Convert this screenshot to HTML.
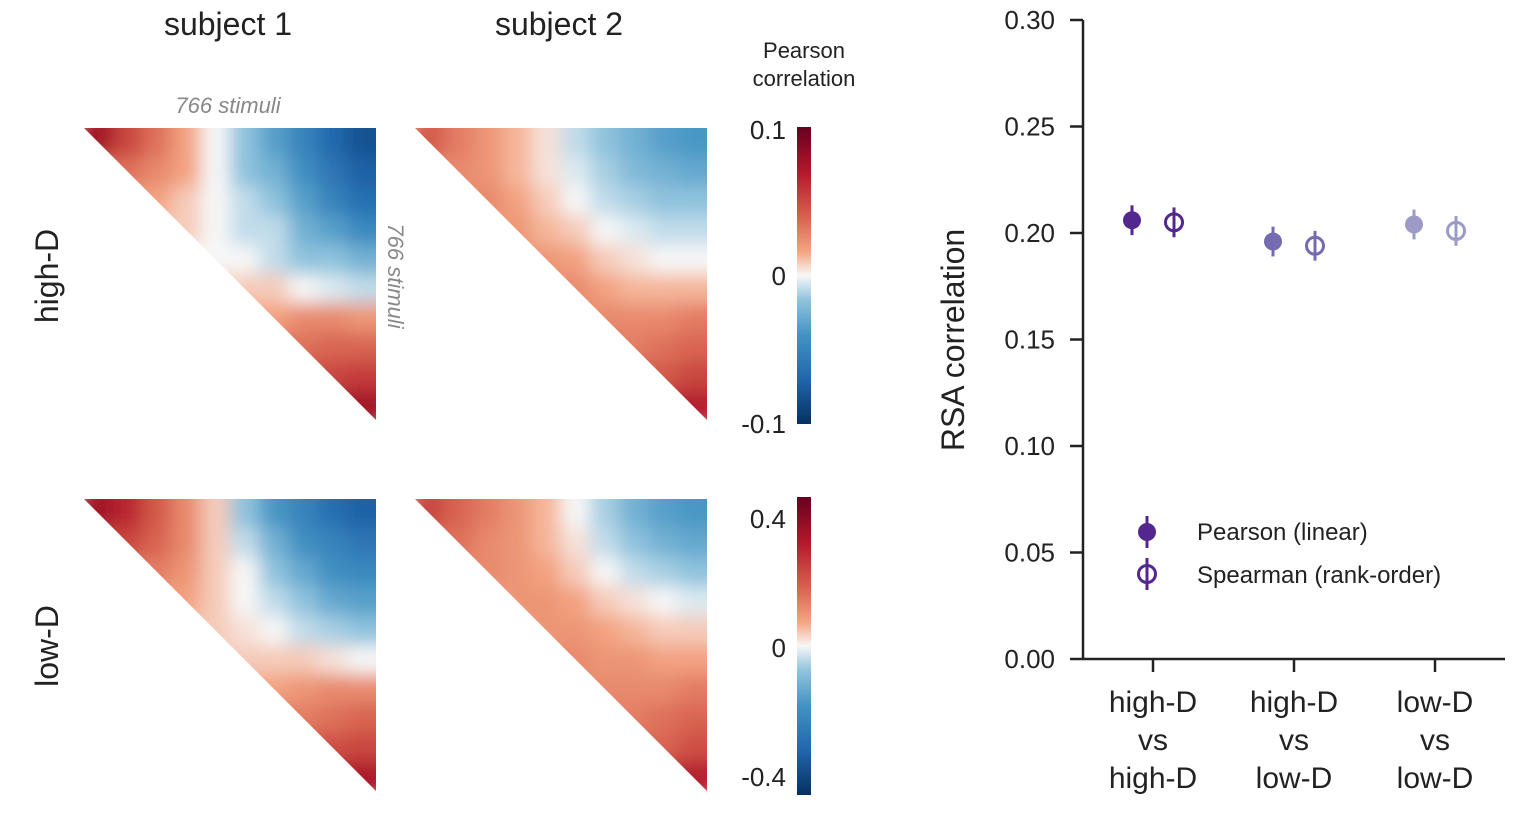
<!DOCTYPE html>
<html><head><meta charset="utf-8">
<style>
body{margin:0;background:#fff;font-family:"Liberation Sans",sans-serif;}
svg text{font-family:"Liberation Sans",sans-serif;fill:#222;}
</style></head>
<body>
<svg id="fig" width="1532" height="824" xmlns="http://www.w3.org/2000/svg">
<defs>
<linearGradient id="rdbu" x1="0" y1="0" x2="0" y2="1">
<stop offset="0" stop-color="#67001f"/><stop offset="0.15" stop-color="#b2182b"/>
<stop offset="0.3" stop-color="#d6604d"/><stop offset="0.42" stop-color="#f4a582"/>
<stop offset="0.5" stop-color="#f7f7f7"/><stop offset="0.58" stop-color="#92c5de"/>
<stop offset="0.7" stop-color="#4393c3"/><stop offset="0.85" stop-color="#2166ac"/>
<stop offset="1" stop-color="#053061"/>
</linearGradient>
<filter id="blur" x="-10%" y="-10%" width="120%" height="120%"><feGaussianBlur stdDeviation="9"/></filter>
</defs>
<g id="heatmaps"></g>
<text x="228" y="35" font-size="32" text-anchor="middle">subject 1</text>
<text x="559" y="35" font-size="32" text-anchor="middle">subject 2</text>
<text x="228" y="113" font-size="22" font-style="italic" text-anchor="middle" style="fill:#888">766 stimuli</text>
<text transform="translate(388,276) rotate(90)" font-size="22" font-style="italic" text-anchor="middle" style="fill:#888">766 stimuli</text>
<text transform="translate(58,276) rotate(-90)" font-size="32" text-anchor="middle">high-D</text>
<text transform="translate(58,646) rotate(-90)" font-size="32" text-anchor="middle">low-D</text>
<text x="804" y="58" font-size="22" text-anchor="middle">Pearson</text>
<text x="804" y="86" font-size="22" text-anchor="middle">correlation</text>
<rect x="797" y="127" width="14" height="297" fill="url(#rdbu)"/>
<rect x="797" y="497" width="14" height="298" fill="url(#rdbu)"/>
<g font-size="26" text-anchor="end">
<text x="786" y="139">0.1</text><text x="786" y="285">0</text><text x="786" y="433">-0.1</text>
<text x="786" y="528">0.4</text><text x="786" y="657">0</text><text x="786" y="786">-0.4</text>
</g>
<g id="scatter"></g>
</svg>
<script>
const NS="http://www.w3.org/2000/svg";
function mk(tag,attrs,parent){const e=document.createElementNS(NS,tag);for(const k in attrs)e.setAttribute(k,attrs[k]);parent.appendChild(e);return e;}
// Heatmap coarse values (upper triangle, row i, cols i..9), scaled -1..1
const s1High=[[.9,.6,.4,.2,0,-.2,-.4,-.6,-.8,-.95],[.4,.3,.2,0,-.2,-.3,-.5,-.7,-.85],[.2,.1,0,-.1,-.2,-.4,-.6,-.75],[.1,0,-.1,-.1,-.3,-.4,-.55],[0,0,-.1,-.2,-.2,-.3],[.1,.1,0,-.05,-.1],[.2,.3,.3,.25],[.4,.45,.45],[.6,.65],[.9]];
const s2High=[[.5,.35,.25,.15,.05,-.1,-.2,-.3,-.4,-.45],[.3,.25,.15,.05,-.05,-.15,-.25,-.3,-.35],[.3,.2,.1,0,-.1,-.15,-.2,-.2],[.25,.15,.1,0,-.05,-.1,-.1],[.25,.2,.1,.05,0,0],[.3,.2,.15,.15,.15],[.3,.3,.3,.35],[.35,.4,.45],[.5,.6],[.8]];
const s1Low=[[.9,.75,.5,.3,.1,-.2,-.45,-.6,-.75,-.85],[.6,.45,.3,.1,-.1,-.3,-.5,-.6,-.7],[.35,.25,.1,0,-.2,-.35,-.5,-.55],[.2,.1,0,-.1,-.2,-.35,-.4],[.1,.05,0,-.1,-.15,-.2],[.1,.1,.1,.05,0],[.2,.25,.3,.3],[.35,.4,.45],[.55,.6],[.85]];
const s2Low=[[.6,.45,.35,.25,.15,0,-.15,-.3,-.4,-.45],[.4,.3,.25,.15,.05,-.1,-.2,-.3,-.35],[.3,.25,.2,.1,0,-.1,-.15,-.2],[.25,.25,.2,.1,.05,0,-.05],[.25,.25,.2,.15,.1,.1],[.3,.25,.25,.2,.2],[.3,.3,.3,.35],[.35,.4,.45],[.45,.55],[.8]];
const stops=[[-1,[5,48,97]],[-.7,[33,102,172]],[-.4,[67,147,195]],[-.16,[146,197,222]],[0,[247,247,247]],[.16,[244,165,130]],[.4,[214,96,77]],[.7,[178,24,43]],[1,[103,0,31]]];
function color(v){v=Math.max(-1,Math.min(1,v*0.85));for(let i=1;i<stops.length;i++){if(v<=stops[i][0]){const a=stops[i-1],b=stops[i],t=(v-a[0])/(b[0]-a[0]);return 'rgb('+a[1].map((c,k)=>Math.round(c+(b[1][k]-c)*t)).join(',')+')';}}return 'rgb(103,0,31)';}
const hm=document.getElementById('heatmaps');
function drawRDM(m,x0,y0,size,name){
  const g=mk('g',{},hm);
  
  
  const n=m.length,c=size/n;
  const cp=mk('clipPath',{id:'cp-'+name},g);
  mk('polygon',{points:`${x0},${y0} ${x0+size},${y0} ${x0+size},${y0+size}`},cp);
  const outer=mk('g',{'clip-path':'url(#cp-'+name+')'},g);
  const inner=mk('g',{filter:'url(#blur)'},outer);
  for(let i=0;i<n;i++)for(let k=0;k<m[i].length;k++){
    const j=i+k;
    // extend cells outward to avoid blur fade at borders
    const x=x0+j*c-(j===n-1?0:0), y=y0+i*c;
    const w=c+0.6+(j===n-1?30:0), h=c+0.6+(i===0?0:0);
    const r=mk('rect',{x:x,y:y-(i===0?30:0),width:w,height:h+(i===0?30:0),fill:color(m[i][k])},inner);
    
    
    if(k===0){ // fill below-diagonal neighbour with same colour to avoid white bleeding
      mk('rect',{x:x-c,y:y,width:c+0.6,height:c+0.6,fill:color(m[i][k])},inner);
      mk('rect',{x:x,y:y+c,width:c+0.6,height:c+0.6,fill:color(m[i][k])},inner);
    }
  }
}
drawRDM(s1High,84,128,292,'rdm-subject1-high-d');
drawRDM(s2High,415,128,292,'rdm-subject2-high-d');
drawRDM(s1Low,84,499,292,'rdm-subject1-low-d');
drawRDM(s2Low,415,499,292,'rdm-subject2-low-d');

// RSA chart data
const categories=[["high-D","vs","high-D"],["high-D","vs","low-D"],["low-D","vs","low-D"]];
const pearsonVals=[0.206,0.196,0.204];
const spearmanVals=[0.205,0.194,0.201];
const errVals=[0.007,0.007,0.007];
const yTicks=["0.00","0.05","0.10","0.15","0.20","0.25","0.30"];
const catColors=["#54278f","#756bb1","#9e9ac8"];
const sc=document.getElementById('scatter');
const yOf=v=>659-v/0.30*639;
const xOf=i=>1153+i*141;
mk('line',{x1:1083,y1:20,x2:1083,y2:659,stroke:'#222','stroke-width':2.5},sc);
mk('line',{x1:1083,y1:659,x2:1505,y2:659,stroke:'#222','stroke-width':2.5},sc);
yTicks.forEach(t=>{const y=yOf(parseFloat(t));
  mk('line',{x1:1070,y1:y,x2:1083,y2:y,stroke:'#222','stroke-width':2.5},sc);
  const tx=mk('text',{x:1055,y:y+9,'font-size':26,'text-anchor':'end'},sc);tx.textContent=t;
  
  
});
const yt=mk('text',{transform:'translate(964,340) rotate(-90)','font-size':32,'text-anchor':'middle'},sc);
yt.textContent='RSA correlation';


categories.forEach((c,i)=>{const x=xOf(i);
  mk('line',{x1:x,y1:659,x2:x,y2:672,stroke:'#222','stroke-width':2.5},sc);
  c.forEach((s,k)=>{const t=mk('text',{x:x,y:712+k*38,'font-size':30,'text-anchor':'middle'},sc);t.textContent=s;
    
    });
  const col=catColors[i];
  const xp=x-21,yp=yOf(pearsonVals[i]);
  mk('line',{x1:xp,y1:yOf(pearsonVals[i]+errVals[i]),x2:xp,y2:yOf(pearsonVals[i]-errVals[i]),stroke:col,'stroke-width':3},sc);
  const p=mk('circle',{cx:xp,cy:yp,r:9,fill:col},sc);
  
  
  const xs=x+21,ys=yOf(spearmanVals[i]);
  const s=mk('circle',{cx:xs,cy:ys,r:8.5,fill:'none',stroke:col,'stroke-width':3},sc);
  
  
  mk('line',{x1:xs,y1:yOf(spearmanVals[i]+errVals[i]),x2:xs,y2:yOf(spearmanVals[i]-errVals[i]),stroke:col,'stroke-width':3},sc);
});
const lg=mk('g',{},sc);


mk('line',{x1:1147,y1:516,x2:1147,y2:548,stroke:'#54278f','stroke-width':3},lg);
mk('circle',{cx:1147,cy:532,r:9,fill:'#54278f'},lg);
mk('circle',{cx:1147,cy:574,r:8.5,fill:'none',stroke:'#54278f','stroke-width':3},lg);
mk('line',{x1:1147,y1:558,x2:1147,y2:590,stroke:'#54278f','stroke-width':3},lg);
const l1=mk('text',{x:1197,y:540,'font-size':24},lg);l1.textContent='Pearson (linear)';


const l2=mk('text',{x:1197,y:583,'font-size':24},lg);l2.textContent='Spearman (rank-order)';


</script>
</body></html>
